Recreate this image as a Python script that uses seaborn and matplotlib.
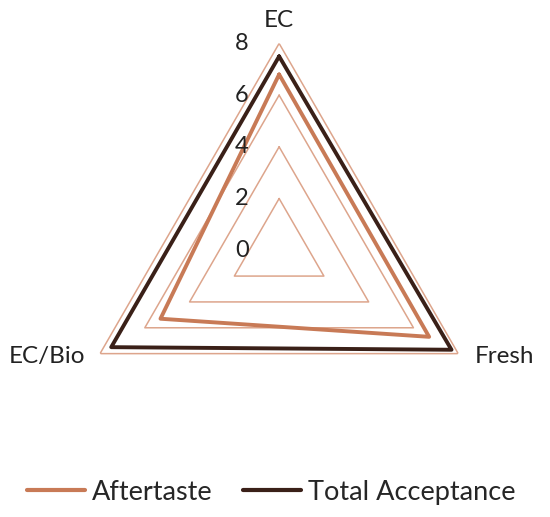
import numpy as np
import pandas as pd
import matplotlib
matplotlib.use("Agg")
import matplotlib.pyplot as plt
import seaborn as sns

# values
categories = ["EC", "Fresh", "EC/Bio"]
aftertaste = [6.8, 6.7, 5.3]
total_acceptance = [7.5, 7.7, 7.5]
r_ticks = [0, 2, 4, 6, 8]

sns.set_style("white")
plt.rcParams["font.family"] = ["Lato", "DejaVu Sans"]

c_after = "#C87A56"
c_total = "#3A2018"
c_grid = "#DDA58C"

theta = np.arange(len(categories)) * 2 * np.pi / len(categories)
theta_closed = np.append(theta, theta[0] + 2 * np.pi)

rows = []
for name, vals in [("Aftertaste", aftertaste), ("Total Acceptance", total_acceptance)]:
    closed = vals + vals[:1]
    for i, (t, v) in enumerate(zip(theta_closed, closed)):
        rows.append({"series": name, "theta": t, "value": v, "order": i})
df = pd.DataFrame(rows)

fig = plt.figure(figsize=(5.5, 5.17), dpi=100)
ax = fig.add_axes([0.131, 0.116, 0.753, 0.80], projection="polar")
ax.set_theta_offset(np.pi / 2)
ax.set_theta_direction(-1)

# polygon gridlines instead of circles
for lvl in r_ticks[1:]:
    ax.plot(theta_closed, [lvl] * len(theta_closed), color=c_grid, lw=1.1, zorder=1)

sns.lineplot(data=df, x="theta", y="value", hue="series", sort=False,
             estimator=None, palette={"Aftertaste": c_after, "Total Acceptance": c_total},
             linewidth=2.8, ax=ax, legend=False, zorder=3)

ax.set_ylim(0, 8)
ax.grid(False)
ax.spines["polar"].set_visible(False)
ax.set_xticks([])
ax.set_yticks([])
ax.set_xlabel("")
ax.set_ylabel("")

# radial tick labels left of the top spoke
for lvl in r_ticks:
    ax.annotate(str(lvl), xy=(0, lvl), xytext=(-27, 0), textcoords="offset points",
                ha="center", va="center", fontsize=17, color="#222222",
                annotation_clip=False)

# category labels, offset from the outer vertices
label_offsets = [(0, 16.5, "center"), (12, -1.8, "left"), (-10.8, -1.8, "right")]
for t, name, (dx, dy, ha) in zip(theta, categories, label_offsets):
    ax.annotate(name, xy=(t, r_ticks[-1]), xytext=(dx, dy), textcoords="offset points",
                ha=ha, va="center", fontsize=17.5, color="#222222",
                annotation_clip=False)

handles = [plt.Line2D([], [], color=c_after, lw=3), plt.Line2D([], [], color=c_total, lw=3)]
fig.legend(handles, ["Aftertaste", "Total Acceptance"], loc="center",
           bbox_to_anchor=(0.493, 0.048), ncol=2, frameon=False, fontsize=19.5,
           handlelength=2.15, handletextpad=0.25, columnspacing=1.1)

fig.savefig("out.png", dpi=100)
